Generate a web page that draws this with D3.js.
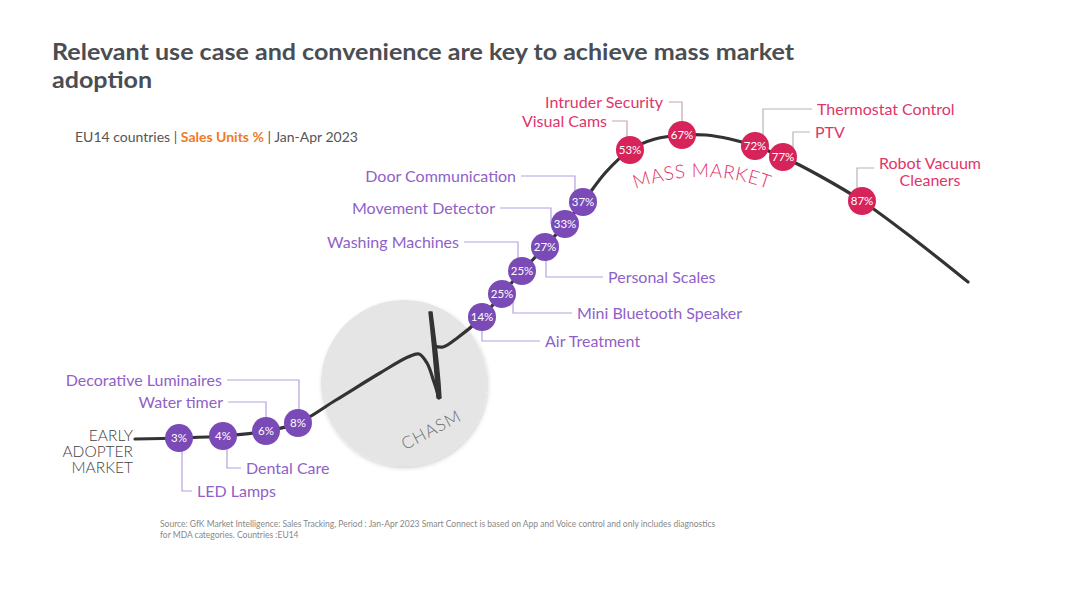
<!DOCTYPE html>
<html>
<head>
<meta charset="utf-8">
<script src="https://cdn.jsdelivr.net/npm/d3@7"></script>
<style>
body { margin: 0; background: #fff; }
svg text { font-family: Lato, "Open Sans", sans-serif; }
</style>
</head>
<body>
<div id="chart"></div>
<script>
// data
var categories = ["LED Lamps", "Dental Care", "Water timer", "Decorative Luminaires", "Air Treatment",
    "Mini Bluetooth Speaker", "Washing Machines", "Personal Scales", "Movement Detector", "Door Communication",
    "Visual Cams", "Intruder Security", "Thermostat Control", "PTV", "Robot Vacuum Cleaners"];
var salesShare = [3, 4, 6, 8, 14, 25, 25, 27, 33, 37, 53, 67, 72, 77, 87];
var segment = ["early", "early", "early", "early", "early", "early", "early", "early", "early", "early",
    "mass", "mass", "mass", "mass", "mass"];
var phaseLabels = ["EARLY ADOPTER MARKET", "CHASM", "MASS MARKET"];

var title = ["Relevant use case and convenience are key to achieve mass market", "adoption"];
var subtitle = ["EU14 countries | ", "Sales Units %", " | Jan-Apr 2023"];
var source = ["Source: GfK Market Intelligence: Sales Tracking,   Period : Jan-Apr 2023 Smart Connect is based on App and Voice control and only includes diagnostics",
    "for MDA categories. Countries :EU14"];

// layout of the adoption curve (drawing only)
var curveLeft = [[135, 439], [180, 438], [223, 436], [266, 431], [298, 423], [336, 400], [380, 373],
    [408, 357], [419, 354], [427, 363], [434, 382], [439, 398]];
var curveRight = [[434, 346], [443, 347], [456, 339], [482, 317], [502, 294], [522, 271], [545, 247],
    [565, 224], [583, 202], [606, 172], [630, 150], [655, 139], [682, 135], [706, 135], [730, 139],
    [755, 146], [783, 157], [820, 176], [862, 201], [915, 240], [968, 282]];
var bubbleX = [179, 223, 266, 298, 482, 502, 522, 545, 565, 583, 630, 682, 755, 783, 862];
// [lineX, textX, textY, anchor, side]
var labelLayout = [
    [182, 197, 491, "start", "bottom"],
    [227, 246, 468, "start", "bottom"],
    [266, 223, 402, "end", "top"],
    [299, 222, 380, "end", "top"],
    [482, 545, 341, "start", "bottom"],
    [513, 577, 313, "start", "bottom"],
    [518, 459, 242, "end", "top"],
    [546, 608, 277, "start", "bottom"],
    [551, 495, 208, "end", "top"],
    [575, 516, 176, "end", "top"],
    [627, 607, 121, "end", "top"],
    [682, 663, 102, "end", "top"],
    [763, 817, 109, "start", "top"],
    [793, 815, 132, "start", "top"],
    [857, 930, 163, "middle", "top"]
];

var width = 1080, height = 592, r = 14;

var fill = d3.scaleOrdinal().domain(["early", "mass"]).range(["#7a4ab6", "#d6235a"]);
var textCol = d3.scaleOrdinal().domain(["early", "mass"]).range(["#8f61c9", "#e0356b"]);
var leaderCol = d3.scaleOrdinal().domain(["early", "mass"]).range(["#b79fe0", "#c8a3b2"]);

var svg = d3.select("#chart").append("svg")
    .attr("width", width)
    .attr("height", height);

var defs = svg.append("defs");
var shadow = defs.append("filter").attr("id", "shadow")
    .attr("x", "-20%").attr("y", "-20%").attr("width", "140%").attr("height", "140%");
shadow.append("feDropShadow").attr("dx", 1).attr("dy", 2).attr("stdDeviation", 2)
    .attr("flood-color", "#000").attr("flood-opacity", 0.18);

// title (the source font is wider than Lato, so stretch a little)
svg.append("g").selectAll("text")
    .data(title)
    .enter().append("text")
    .attr("transform", function(d, i) { return "translate(52," + (60 + i * 28) + ") scale(1.14,1)"; })
    .attr("fill", "#4a4d52")
    .attr("font-size", 22)
    .attr("font-weight", 700)
    .text(function(d) { return d; });

var sub = svg.append("text")
    .attr("x", 75).attr("y", 142)
    .attr("font-size", 14)
    .attr("fill", "#555");
sub.selectAll("tspan")
    .data(subtitle)
    .enter().append("tspan")
    .attr("fill", function(d, i) { return i == 1 ? "#f07a26" : "#555"; })
    .attr("font-weight", function(d, i) { return i == 1 ? 700 : 400; })
    .text(function(d) { return d; });

// chasm disc
svg.append("circle")
    .attr("cx", 404).attr("cy", 383).attr("r", 83)
    .attr("fill", "#e5e5e5")
    .attr("filter", "url(#shadow)");

svg.append("text")
    .attr("transform", "translate(434,435) rotate(-28)")
    .attr("text-anchor", "middle")
    .attr("font-size", 17)
    .attr("font-weight", 300)
    .attr("letter-spacing", 1)
    .attr("fill", "#707070")
    .text(phaseLabels[1]);

// curve
var line = d3.line().curve(d3.curveCatmullRom.alpha(0.5));

var leftPath = svg.append("path")
    .attr("d", line(curveLeft))
    .attr("fill", "none")
    .attr("stroke", "#333")
    .attr("stroke-width", 3.2)
    .attr("stroke-linecap", "round");

var rightPath = svg.append("path")
    .attr("d", line(curveRight))
    .attr("fill", "none")
    .attr("stroke", "#333")
    .attr("stroke-width", 3.2)
    .attr("stroke-linecap", "round");

// the vertical stroke of the chasm glyph
svg.append("path")
    .attr("d", "M429,312 C431,330 434,360 437,398 L441,398 C439,360 434,330 432,312 Z")
    .attr("fill", "#333")
    .attr("stroke", "#333")
    .attr("stroke-width", 1.4)
    .attr("stroke-linejoin", "round");

function yAt(pathNode, x) {
    var lo = 0, hi = pathNode.getTotalLength();
    for (var k = 0; k < 40; k++) {
        var mid = (lo + hi) / 2;
        if (pathNode.getPointAtLength(mid).x < x) lo = mid; else hi = mid;
    }
    return pathNode.getPointAtLength((lo + hi) / 2).y;
}

var items = categories.map(function(c, i) {
    var node = bubbleX[i] < 430 ? leftPath.node() : rightPath.node();
    var L = labelLayout[i];
    return {
        name: c, value: salesShare[i], seg: segment[i],
        x: bubbleX[i], y: yAt(node, bubbleX[i]),
        lx: L[0], tx: L[1], ty: L[2], anchor: L[3], side: L[4]
    };
});

// phase labels
svg.append("g").selectAll("text")
    .data(phaseLabels[0].split(" "))
    .enter().append("text")
    .attr("x", 133)
    .attr("y", function(d, i) { return 441 + i * 16; })
    .attr("text-anchor", "end")
    .attr("font-size", 15.5)
    .attr("font-weight", 300)
    .attr("fill", "#3f3f3f")
    .text(function(d) { return d; });

defs.append("path").attr("id", "massArc")
    .attr("d", "M" + (702 - 190 * Math.sin(0.6)) + "," + (367 - 190 * Math.cos(0.6)) +
        " A190,190 0 0,1 " + (702 + 190 * Math.sin(0.6)) + "," + (367 - 190 * Math.cos(0.6)));
svg.append("text")
    .attr("font-size", 19)
    .attr("font-weight", 300)
    .attr("letter-spacing", 0.5)
    .attr("fill", "#e0356b")
    .append("textPath")
    .attr("href", "#massArc")
    .attr("startOffset", "50%")
    .attr("text-anchor", "middle")
    .text(phaseLabels[2]);

// labels and leader lines
var labels = svg.append("g");
items.forEach(function(d) {
    var lines = d.name == "Robot Vacuum Cleaners" ? ["Robot Vacuum", "Cleaners"] : [d.name];
    var t = labels.append("text")
        .attr("font-size", 16)
        .attr("fill", textCol(d.seg))
        .attr("text-anchor", d.anchor);
    t.selectAll("tspan")
        .data(lines)
        .enter().append("tspan")
        .attr("x", d.tx)
        .attr("y", function(s, i) { return d.ty + i * 17; })
        .attr("dy", "0.35em")
        .text(function(s) { return s; });
    var bb = t.node().getBBox();
    var ly = lines.length > 1 ? d.ty + 5 : d.ty;
    var ex = d.lx < bb.x ? bb.x - 5 : bb.x + bb.width + 5;
    var col = d.seg == "mass" && d.anchor != "end" ? "#b5b5b5" : leaderCol(d.seg);
    var pts = d.side == "top"
        ? [[ex, ly], [d.lx, ly], [d.lx, d.y]]
        : [[d.lx, d.y], [d.lx, ly], [ex, ly]];
    labels.append("path")
        .attr("d", d3.line()(pts))
        .attr("fill", "none")
        .attr("stroke", col)
        .attr("stroke-width", 1.2);
});

// bubbles
var bub = svg.append("g").selectAll("g")
    .data(items)
    .enter().append("g")
    .attr("transform", function(d) { return "translate(" + d.x + "," + d.y + ")"; });
bub.append("circle")
    .attr("r", r)
    .attr("fill", function(d) { return fill(d.seg); });
bub.append("text")
    .attr("text-anchor", "middle")
    .attr("dy", "0.35em")
    .attr("font-size", 11.5)
    .attr("fill", "#fff")
    .text(function(d) { return d.value + "%"; });

// source
svg.append("g").selectAll("text")
    .data(source)
    .enter().append("text")
    .attr("x", 160)
    .attr("y", function(d, i) { return 527 + i * 11; })
    .attr("font-size", 8.5)
    .attr("fill", "#888")
    .text(function(d) { return d; });
</script>
</body>
</html>
